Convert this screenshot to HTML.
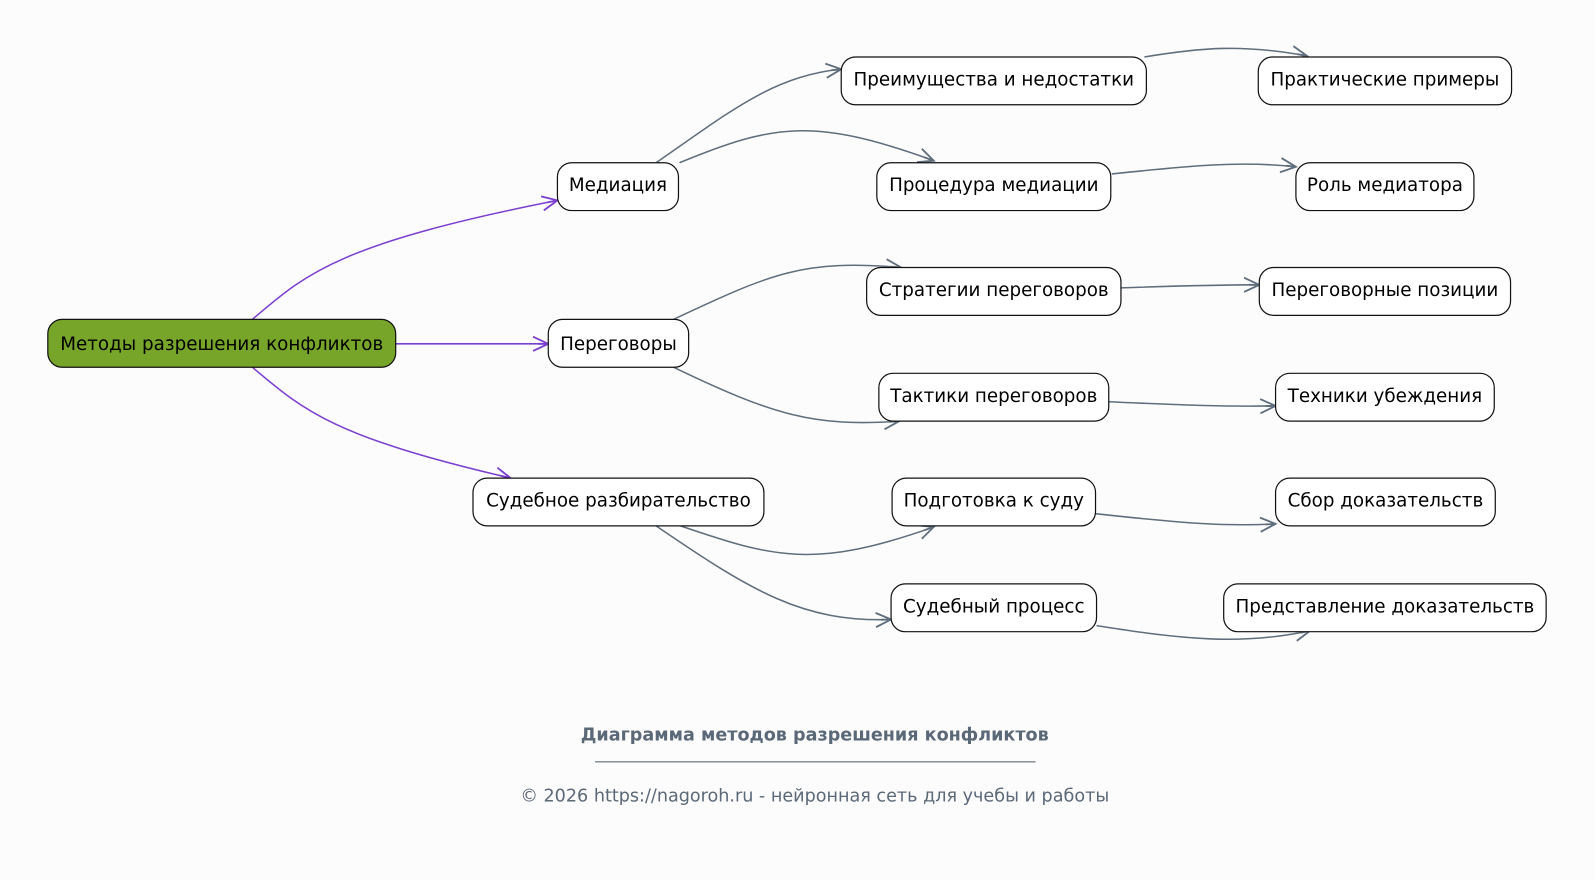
<!DOCTYPE html>
<html><head><meta charset="utf-8"><style>
html,body{margin:0;padding:0;background:#fdfcfc;}
svg{display:block;}
text{font-family:"DejaVu Sans","Liberation Sans",sans-serif;}
</style></head><body>
<svg width="1595" height="880" viewBox="0 0 1595 880" xmlns="http://www.w3.org/2000/svg">
<defs>
<marker id="ap" viewBox="0 0 20 20" refX="18" refY="10" markerWidth="20" markerHeight="20" markerUnits="userSpaceOnUse" orient="auto">
<path d="M3,3 L18,10 L3,17 M18,10 L8,10" fill="none" stroke="#7b3fcf" stroke-width="1.8"/></marker>
<marker id="ag" viewBox="0 0 20 20" refX="18" refY="10" markerWidth="20" markerHeight="20" markerUnits="userSpaceOnUse" orient="auto">
<path d="M3,3 L18,10 L3,17 M18,10 L8,10" fill="none" stroke="#5f6e7d" stroke-width="1.8"/></marker>
</defs>
<g transform="scale(1.0172)">
<g fill="none" stroke-width="1.5">
<g stroke="#7b3fcf" marker-end="url(#ap)">
<path d="M248,314 C300,270 330,240 548,197"/>
<path d="M389,338 L539,338"/>
<path d="M248,361 C300,405 330,430 502,470"/>
</g>
<g stroke="#5f6e7d" marker-end="url(#ag)">
<path d="M645,160 C720,108 760,75 827,68"/>
<path d="M668,160 C760,122 800,115 918,158"/>
<path d="M662,314 C760,268 790,255 886,263"/>
<path d="M662,361 C760,408 800,420 884,414"/>
<path d="M669,517 C760,548 800,560 918,518"/>
<path d="M645,517 C740,582 790,612 876,609"/>
<path d="M1125,56 C1180,47 1220,43 1285,55"/>
<path d="M1093,171 C1170,163 1220,158 1274,164"/>
<path d="M1102,283 C1160,281 1200,280 1238,280"/>
<path d="M1090,395 C1160,398 1200,400 1254,399"/>
<path d="M1077,505 C1150,513 1200,518 1254,515"/>
<path d="M1078,615 C1160,628 1220,635 1288,620"/>
</g>
</g>
<g stroke="#111" stroke-width="1.2">
<rect x="47" y="314" width="342" height="47" rx="14" fill="#76a52a"/>
<g fill="#fff">
<rect x="548" y="160" width="119" height="47" rx="14"/>
<rect x="539" y="314" width="138" height="47" rx="14"/>
<rect x="465" y="470" width="286" height="47" rx="14"/>
<rect x="827" y="56" width="300" height="47" rx="14"/>
<rect x="862" y="160" width="230" height="47" rx="14"/>
<rect x="852" y="263" width="250" height="47" rx="14"/>
<rect x="864" y="367" width="226" height="47" rx="14"/>
<rect x="877" y="470" width="200" height="47" rx="14"/>
<rect x="876" y="574" width="202" height="47" rx="14"/>
<rect x="1237" y="56" width="249" height="47" rx="14"/>
<rect x="1274" y="160" width="175" height="47" rx="14"/>
<rect x="1238" y="263" width="247" height="47" rx="14"/>
<rect x="1254" y="367" width="215" height="47" rx="14"/>
<rect x="1254" y="470" width="216" height="47" rx="14"/>
<rect x="1203" y="574" width="317" height="47" rx="14"/>
</g></g>
<g font-size="18" fill="#000" text-anchor="middle">
<text x="218" y="344">Методы разрешения конфликтов</text>
<text x="607.5" y="188">Медиация</text>
<text x="608" y="344">Переговоры</text>
<text x="608" y="498">Судебное разбирательство</text>
<text x="977" y="84">Преимущества и недостатки</text>
<text x="977" y="188">Процедура медиации</text>
<text x="977" y="291">Стратегии переговоров</text>
<text x="977" y="395">Тактики переговоров</text>
<text x="977" y="498">Подготовка к суду</text>
<text x="977" y="602">Судебный процесс</text>
<text x="1361.5" y="84">Практические примеры</text>
<text x="1361.5" y="188">Роль медиатора</text>
<text x="1361.5" y="291">Переговорные позиции</text>
<text x="1361.5" y="395">Техники убеждения</text>
<text x="1362" y="498">Сбор доказательств</text>
<text x="1361.5" y="602">Представление доказательств</text>
</g>
<g fill="#5a6878" text-anchor="middle">
<text x="801" y="728" font-size="17.3" font-weight="bold">Диаграмма методов разрешения конфликтов</text>
<line x1="585" y1="749" x2="1018" y2="749" stroke="#4a5563" stroke-width="1"/>
<text x="801" y="788" font-size="17.3">© 2026 https://nagoroh.ru - нейронная сеть для учебы и работы</text>
</g>
</g>
</svg>
</body></html>
